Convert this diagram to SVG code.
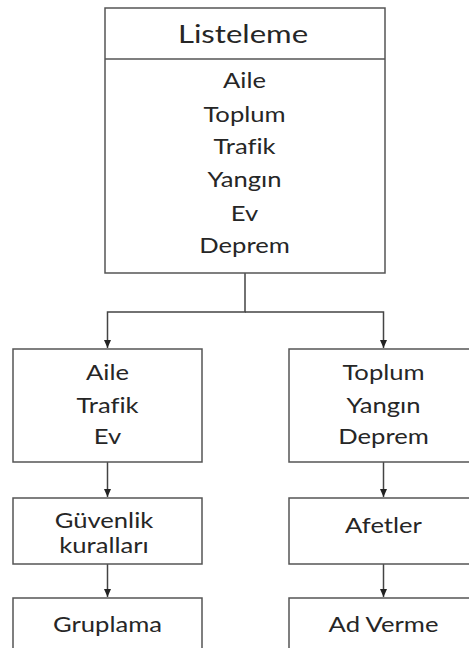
<svg xmlns="http://www.w3.org/2000/svg" width="469" height="648" viewBox="0 0 469 648">
<style>
.box{fill:#fff;stroke:#555;stroke-width:1.5}
.t{font-family:Lato,"Open Sans",sans-serif;fill:#262626;text-anchor:middle;font-variant-ligatures:none;font-feature-settings:"liga" 0}
.s{font-size:21px}
.h{font-size:25.5px}
.c{fill:none;stroke:#444;stroke-width:1.5}
</style>
<defs>
<marker id="ah" viewBox="0 0 8 8" refX="8" refY="4" markerWidth="8" markerHeight="8" markerUnits="userSpaceOnUse" orient="auto">
<path d="M0,0.5 L8,4 L0,7.5 Z" fill="#222"/>
</marker>
</defs>
<rect width="469" height="648" fill="#fff"/>
<g id="connectors">
<path class="c" d="M245,273 V312 H107.5 V348" marker-end="url(#ah)"/>
<path class="c" d="M245,312 H383.5 V348" marker-end="url(#ah)"/>
<path class="c" d="M107.5,462 V497" marker-end="url(#ah)"/>
<path class="c" d="M383.5,462 V497" marker-end="url(#ah)"/>
<path class="c" d="M107.5,564 V597" marker-end="url(#ah)"/>
<path class="c" d="M383.5,564 V597" marker-end="url(#ah)"/>
</g>
<g id="listeleme">
<rect class="box" x="105" y="8" width="280" height="265"/>
<line x1="105" y1="59" x2="385" y2="59" stroke="#555" stroke-width="1.5"/>
<text class="t h" transform="translate(243,43) scale(1.22,1)">Listeleme</text>
<text class="t s" transform="translate(244.5,88) scale(1.22,1)">Aile</text>
<text class="t s" transform="translate(244.5,122) scale(1.22,1)">Toplum</text>
<text class="t s" transform="translate(244.5,154) scale(1.22,1)">Trafik</text>
<text class="t s" transform="translate(244.5,187) scale(1.22,1)">Yangın</text>
<text class="t s" transform="translate(244.5,221) scale(1.22,1)">Ev</text>
<text class="t s" transform="translate(244.5,253) scale(1.22,1)">Deprem</text>
</g>
<g id="sol1">
<rect class="box" x="13" y="349" width="189" height="113"/>
<text class="t s" transform="translate(107.5,380) scale(1.22,1)">Aile</text>
<text class="t s" transform="translate(107.5,413) scale(1.22,1)">Trafik</text>
<text class="t s" transform="translate(107.5,444) scale(1.22,1)">Ev</text>
</g>
<g id="sag1">
<rect class="box" x="289" y="349" width="189" height="113"/>
<text class="t s" transform="translate(383.5,380) scale(1.22,1)">Toplum</text>
<text class="t s" transform="translate(383.5,413) scale(1.22,1)">Yangın</text>
<text class="t s" transform="translate(383.5,444) scale(1.22,1)">Deprem</text>
</g>
<g id="sol2">
<rect class="box" x="13" y="498" width="189" height="66"/>
<text class="t s" transform="translate(104,528) scale(1.22,1)">Güvenlik</text>
<text class="t s" transform="translate(104,553) scale(1.22,1)">kuralları</text>
</g>
<g id="sag2">
<rect class="box" x="289" y="498" width="189" height="66"/>
<text class="t s" transform="translate(383.5,533) scale(1.22,1)">Afetler</text>
</g>
<g id="sol3">
<rect class="box" x="13" y="598" width="189" height="60"/>
<text class="t s" transform="translate(107.5,632) scale(1.22,1)">Gruplama</text>
</g>
<g id="sag3">
<rect class="box" x="289" y="598" width="189" height="60"/>
<text class="t s" transform="translate(383.5,632) scale(1.22,1)">Ad Verme</text>
</g>
</svg>
